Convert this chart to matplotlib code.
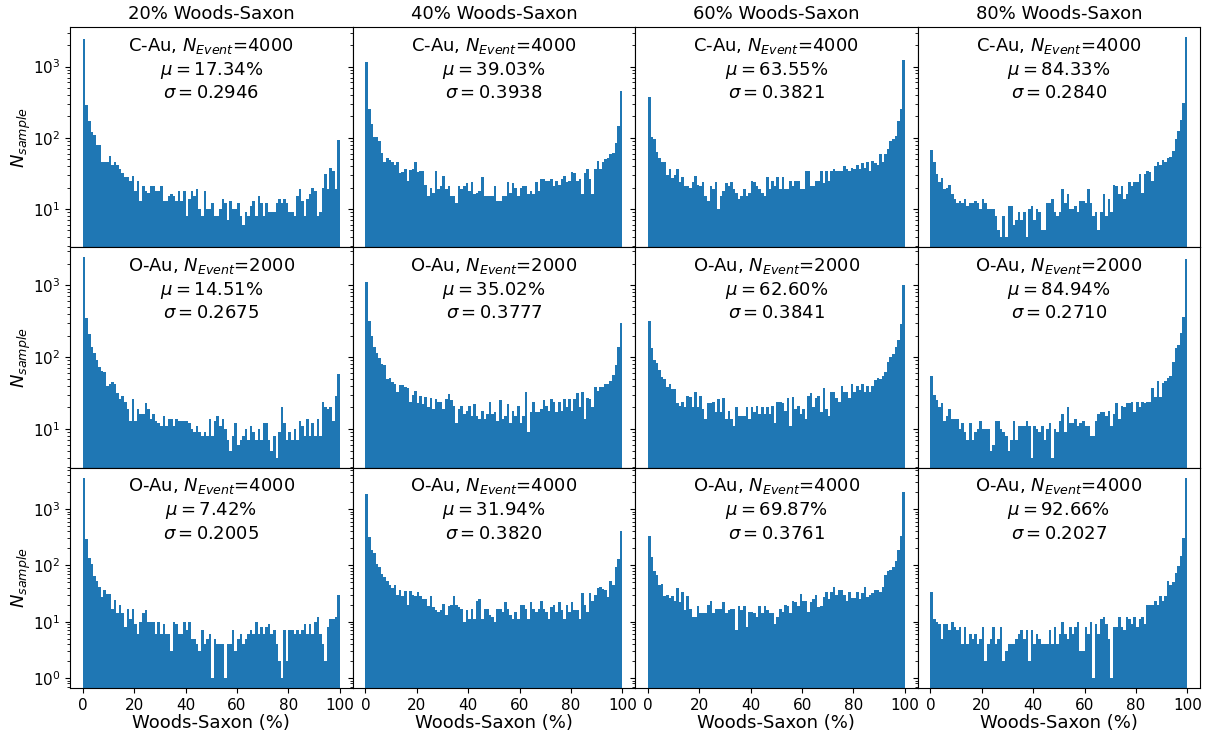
import numpy as np
import matplotlib
matplotlib.use("Agg")
import matplotlib.pyplot as plt

# ---- data ----
ws_fractions = ["20%", "40%", "60%", "80%"]
systems = ["C-Au", "O-Au", "O-Au"]
n_events = [4000, 2000, 4000]
mu_vals = [[17.34, 39.03, 63.55, 84.33],
           [14.51, 35.02, 62.60, 84.94],
           [7.42, 31.94, 69.87, 92.66]]
sigma_vals = [[0.2946, 0.3938, 0.3821, 0.2840],
              [0.2675, 0.3777, 0.3841, 0.2710],
              [0.2005, 0.3820, 0.3761, 0.2027]]
bin_edges = list(range(0, 101))

c_au_20 = [2400, 285, 174, 120, 110, 80, 78, 46, 45, 45,
           56, 41, 45, 41, 36, 32, 28, 28, 25, 29,
           18, 25, 13, 21, 18, 17, 21, 21, 18, 18,
           21, 13, 13, 15, 16, 15, 13, 18, 13, 18,
           8, 14, 18, 15, 19, 10, 8, 18, 10, 10,
           12, 8, 8, 10, 14, 12, 7, 13, 10, 10,
           12, 8, 6, 9, 8, 11, 13, 8, 15, 12,
           8, 12, 9, 9, 9, 12, 14, 12, 14, 12,
           9, 9, 8, 15, 19, 13, 8, 14, 16, 20,
           18, 8, 9, 20, 31, 19, 38, 34, 19, 94]
c_au_40 = [1150, 250, 158, 103, 103, 90, 62, 45, 52, 48,
           46, 41, 46, 32, 33, 36, 25, 35, 37, 45,
           33, 34, 34, 22, 15, 20, 17, 34, 19, 21,
           29, 19, 21, 15, 15, 12, 21, 19, 21, 23,
           18, 24, 16, 17, 18, 28, 15, 15, 15, 15,
           21, 13, 13, 15, 15, 24, 17, 23, 20, 15,
           20, 21, 21, 16, 18, 16, 24, 18, 26, 26,
           25, 25, 26, 21, 25, 22, 26, 29, 24, 25,
           33, 32, 25, 26, 16, 32, 36, 26, 16, 37,
           47, 37, 46, 51, 52, 60, 62, 84, 145, 460]
c_au_60 = [375, 103, 97, 64, 52, 45, 45, 30, 36, 27,
           30, 36, 24, 28, 21, 21, 20, 24, 29, 22,
           21, 24, 15, 13, 21, 19, 24, 10, 15, 18,
           23, 21, 24, 19, 17, 14, 15, 19, 15, 17,
           25, 24, 21, 19, 17, 15, 28, 19, 25, 21,
           28, 19, 28, 19, 19, 25, 21, 25, 25, 19,
           19, 34, 34, 21, 21, 25, 25, 34, 23, 34,
           25, 34, 37, 34, 34, 34, 40, 36, 34, 38,
           36, 42, 36, 44, 38, 45, 34, 47, 44, 42,
           59, 45, 59, 70, 89, 96, 107, 174, 250, 1220]
c_au_80 = [67, 45, 31, 24, 27, 19, 20, 22, 16, 14,
           12, 13, 12, 14, 11, 12, 12, 13, 12, 10,
           14, 12, 10, 10, 10, 8, 5, 4, 8, 4,
           11, 11, 6, 7, 9, 7, 9, 4, 10, 11,
           7, 10, 9, 5, 5, 12, 12, 14, 9, 8,
           9, 19, 12, 16, 10, 10, 11, 9, 13, 13,
           12, 19, 12, 8, 9, 5, 9, 16, 8, 14,
           9, 22, 21, 16, 21, 14, 16, 24, 21, 24,
           24, 31, 17, 31, 34, 33, 25, 40, 46, 42,
           48, 46, 52, 54, 65, 96, 123, 180, 310, 2600]
o_au2k_20 = [2450, 355, 213, 140, 113, 91, 73, 64, 62, 40,
             42, 45, 42, 32, 26, 29, 24, 19, 13, 26,
             13, 19, 16, 16, 23, 19, 14, 16, 13, 12,
             11, 15, 11, 14, 14, 11, 14, 13, 13, 13,
             13, 12, 10, 9, 11, 9, 8, 9, 8, 14,
             8, 13, 15, 11, 14, 10, 7, 5, 8, 12,
             6, 7, 8, 10, 7, 11, 9, 7, 10, 7,
             12, 12, 7, 5, 8, 4, 9, 20, 12, 7,
             9, 7, 10, 7, 13, 11, 8, 14, 8, 12,
             8, 14, 8, 24, 20, 19, 20, 13, 29, 59]
o_au2k_40 = [1100, 318, 195, 137, 113, 96, 80, 77, 50, 51,
             45, 42, 33, 41, 41, 38, 37, 24, 30, 34,
             23, 29, 22, 28, 20, 27, 19, 26, 24, 24,
             19, 26, 31, 25, 21, 12, 19, 21, 16, 18,
             21, 15, 22, 15, 14, 18, 14, 16, 24, 16,
             17, 13, 25, 14, 15, 22, 12, 18, 15, 21,
             12, 15, 33, 9, 17, 24, 17, 17, 19, 25,
             21, 18, 26, 24, 17, 24, 18, 26, 20, 26,
             18, 26, 32, 20, 33, 14, 27, 26, 20, 38,
             34, 38, 38, 42, 42, 47, 57, 77, 137, 300]
o_au2k_60 = [320, 133, 91, 82, 67, 53, 50, 38, 42, 36,
             36, 23, 21, 24, 20, 29, 28, 20, 33, 20,
             29, 19, 14, 23, 23, 24, 17, 26, 17, 27,
             14, 18, 14, 11, 20, 15, 15, 15, 20, 14,
             20, 17, 21, 16, 20, 16, 20, 16, 21, 12,
             24, 24, 23, 18, 27, 11, 28, 19, 21, 16,
             19, 14, 29, 32, 20, 27, 29, 17, 37, 19,
             15, 33, 33, 27, 24, 40, 33, 33, 27, 43,
             33, 40, 35, 43, 33, 40, 33, 40, 48, 52,
             50, 55, 63, 85, 100, 109, 137, 172, 285, 1000]
o_au2k_80 = [55, 30, 25, 20, 23, 13, 15, 19, 14, 14,
             14, 10, 12, 9, 7, 12, 7, 9, 10, 13,
             10, 10, 10, 5, 6, 13, 13, 10, 9, 8,
             5, 7, 13, 7, 11, 11, 11, 13, 11, 4,
             11, 10, 9, 11, 7, 10, 12, 4, 10, 9,
             13, 16, 9, 20, 12, 12, 14, 11, 12, 13,
             11, 11, 8, 8, 13, 16, 17, 17, 15, 18,
             11, 16, 23, 14, 21, 20, 23, 23, 24, 17,
             24, 20, 24, 23, 24, 24, 37, 28, 47, 28,
             44, 47, 52, 55, 85, 133, 150, 218, 360, 2350]
o_au4k_20 = [3600, 288, 135, 107, 65, 52, 42, 27, 36, 31,
             31, 17, 24, 14, 20, 14, 8, 17, 11, 17,
             9, 6, 10, 14, 16, 10, 10, 10, 6, 10,
             6, 9, 6, 6, 3, 10, 9, 6, 6, 10,
             7, 10, 5, 5, 4, 3, 7, 4, 5, 6,
             1, 5, 4, 4, 4, 1, 4, 4, 7, 3,
             5, 6, 4, 5, 6, 7, 6, 10, 6, 8,
             6, 8, 9, 6, 7, 4, 2, 1, 7, 2,
             7, 7, 6, 7, 6, 7, 9, 6, 9, 6,
             10, 12, 6, 4, 2, 8, 11, 11, 12, 30]
o_au4k_40 = [1850, 315, 190, 166, 106, 95, 71, 61, 52, 45,
             39, 44, 30, 36, 29, 35, 20, 35, 30, 28,
             33, 28, 25, 25, 19, 29, 18, 16, 15, 16,
             21, 13, 19, 20, 28, 20, 18, 17, 10, 16,
             11, 17, 11, 23, 25, 11, 17, 17, 13, 12,
             10, 17, 17, 15, 22, 17, 13, 11, 15, 11,
             20, 20, 17, 11, 22, 17, 15, 17, 23, 17,
             15, 11, 18, 20, 15, 22, 16, 11, 20, 15,
             22, 16, 16, 11, 32, 20, 15, 32, 23, 30,
             40, 42, 38, 36, 27, 52, 45, 95, 132, 400]
o_au4k_60 = [330, 138, 78, 68, 45, 47, 28, 30, 26, 29,
             23, 40, 22, 33, 16, 28, 17, 12, 12, 19,
             14, 14, 14, 20, 23, 14, 17, 17, 17, 22,
             14, 16, 17, 17, 7, 19, 16, 19, 8, 15,
             15, 14, 12, 19, 14, 19, 16, 14, 14, 9,
             12, 17, 15, 20, 19, 14, 23, 22, 19, 31,
             23, 23, 15, 22, 25, 30, 18, 19, 27, 33,
             25, 33, 42, 30, 37, 37, 30, 23, 33, 26,
             26, 33, 25, 32, 42, 27, 30, 32, 37, 37,
             33, 42, 68, 80, 83, 95, 120, 190, 330, 2000]
o_au4k_80 = [33, 11, 10, 9, 5, 9, 9, 7, 10, 8,
             7, 8, 4, 8, 4, 6, 5, 6, 4, 5,
             8, 2, 4, 5, 8, 4, 5, 8, 2, 3,
             4, 4, 4, 5, 6, 7, 5, 7, 2, 7,
             4, 6, 5, 4, 4, 4, 7, 4, 8, 4,
             6, 10, 6, 5, 8, 6, 8, 10, 3, 3,
             8, 6, 10, 1, 9, 6, 11, 12, 9, 5,
             1, 8, 8, 12, 8, 7, 12, 11, 9, 12,
             8, 11, 12, 9, 20, 20, 20, 23, 20, 28,
             23, 28, 52, 44, 50, 74, 97, 145, 310, 3600]

counts = [[c_au_20, c_au_40, c_au_60, c_au_80],
          [o_au2k_20, o_au2k_40, o_au2k_60, o_au2k_80],
          [o_au4k_20, o_au4k_40, o_au4k_60, o_au4k_80]]

# ---- plot ----
fig, axes = plt.subplots(3, 4, figsize=(12.16, 7.41), dpi=100,
                         sharex=True, sharey='row')
fig.subplots_adjust(left=0.0576, right=0.987, top=0.9636, bottom=0.0715,
                    wspace=0, hspace=0)

edges = np.array(bin_edges, dtype=float)
centers = 0.5 * (edges[:-1] + edges[1:])

for r in range(3):
    for c in range(4):
        ax = axes[r, c]
        ax.hist(centers, bins=edges, weights=counts[r][c], log=True,
                color='#1f77b4')
        txt = (f"{systems[r]}, $N_{{Event}}$={n_events[r]}\n"
               f"$\\mu = {mu_vals[r][c]:.2f}\\%$\n"
               f"$\\sigma = {sigma_vals[r][c]:.4f}$")
        ax.text(0.5, 0.96, txt, transform=ax.transAxes, ha='center',
                va='top', fontsize=13, linespacing=1.25)
        ax.tick_params(labelsize=11)
        if r == 0:
            ax.set_title(f"{ws_fractions[c]} Woods-Saxon", fontsize=13)
        if r == 2:
            ax.set_xlabel("Woods-Saxon (%)", fontsize=13, labelpad=1)
            ax.set_xticks([0, 20, 40, 60, 80, 100])
        if c == 0:
            ax.set_ylabel("$N_{sample}$", fontsize=13, labelpad=0)

fig.savefig("out.png", dpi=100)
